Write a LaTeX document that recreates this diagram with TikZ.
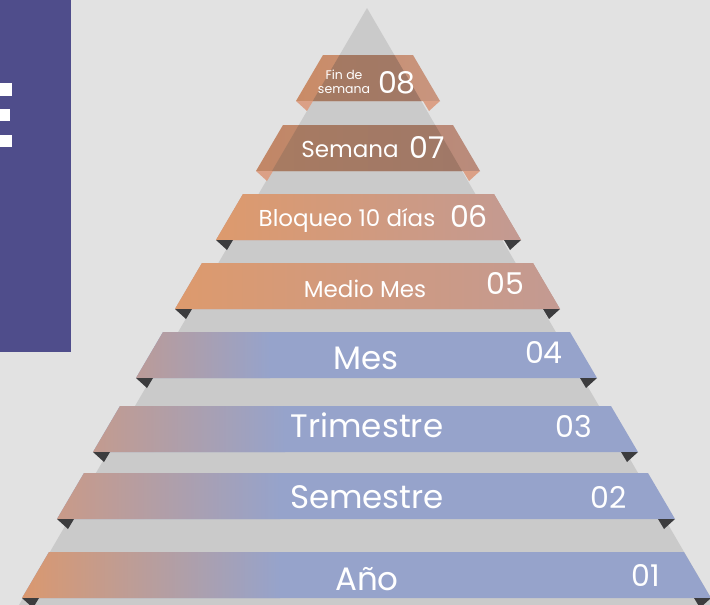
\documentclass[tikz,border=0pt]{standalone}
\usepackage{fontspec}
\setmainfont{Poppins}

\definecolor{bgray}{HTML}{E2E2E2}
\definecolor{tgray}{HTML}{CACACA}
\definecolor{panel}{HTML}{4F4D8B}
\definecolor{blu}{HTML}{96A3CB}
\definecolor{tabdark}{HTML}{3C3C3E}
\definecolor{tablight}{HTML}{DBA086}
\definecolor{orgL}{HTML}{DD9A6D}
\definecolor{pinkR}{HTML}{C39A92}
\definecolor{b4L}{HTML}{BB9B98}
\definecolor{b3L}{HTML}{C39B8F}
\definecolor{b2L}{HTML}{C99A88}
\definecolor{b1L}{HTML}{DA986F}
\definecolor{out8L}{HTML}{C98B66}
\definecolor{out8R}{HTML}{C8957F}
\definecolor{in8L}{HTML}{A67A60}
\definecolor{in8R}{HTML}{A07868}
\definecolor{out7L}{HTML}{C28766}
\definecolor{out7R}{HTML}{B98B7C}
\definecolor{in7L}{HTML}{A87B61}
\definecolor{in7R}{HTML}{9F7868}

\begin{document}
\begin{tikzpicture}[x=1pt,y=-1pt,
    lbl/.style={text=white,inner sep=0pt,font=\fontsize{23}{23}\selectfont},
    big/.style={text=white,inner sep=0pt,font=\fontsize{32.5}{32.5}\selectfont},
    num/.style={text=white,inner sep=0pt,font=\fontsize{30}{30}\selectfont},
    small/.style={text=white,inner sep=0pt,font=\fontsize{12.5}{12.5}\selectfont}]

	\useasboundingbox (0,0) rectangle (710,605);
	\clip (0,0) rectangle (710,605);
	\fill[bgray] (0,0) rectangle (710,605);

	% side panel
	\fill[panel] (0,0) rectangle (71,352);
	\fill[white] (0,83) rectangle (12,96);
	\fill[white] (0,109) rectangle (10,121);
	\fill[white] (0,135) rectangle (12,147);

	% pyramid
	\fill[tgray] (367,8) -- (19,605) -- (715,605) -- cycle;

	% lower bands
	\foreach \yt/\xl/\xr/\cl/\cr/\xe in {552/49/684/b1L/blu/280, 473/84/648/b2L/blu/280,
	    406/120/611/b3L/blu/285, 332/163/570/b4L/blu/270,
	    263/202/533/orgL/pinkR/560, 194/243/494/orgL/pinkR/521}{
		\fill[\cr] (\xl,\yt) -- (\xr,\yt) -- ({\xr+27},{\yt+46}) -- ({\xl-27},{\yt+46}) -- cycle;
		\begin{scope}
			\clip (\xl,\yt) -- (\xr,\yt) -- ({\xr+27},{\yt+46}) -- ({\xl-27},{\yt+46}) -- cycle;
			\shade[left color=\cl,right color=\cr] ({\xl-27},\yt) rectangle (\xe,{\yt+46});
		\end{scope}
		\fill[tabdark] ({\xl-27},{\yt+46}) -- ++(17,0) -- ++(-6,10) -- cycle;
		\fill[tabdark] ({\xr+27},{\yt+46}) -- ++(-17,0) -- ++(6,10) -- cycle;
	}

	% upper bands
	\foreach \yt/\xl/\xr/\oL/\oR/\iL/\iR in {125/283/453/out7L/out7R/in7L/in7R,
	    55/323/413/out8L/out8R/in8L/in8R}{
		\shade[left color=\oL,right color=\oR] (\xl,\yt) -- (\xr,\yt) -- ({\xr+27},{\yt+46}) -- ({\xl-27},{\yt+46}) -- cycle;
		\begin{scope}
			\clip (367,8) -- (19,605) -- (715,605) -- cycle;
			\clip (\xl,\yt) -- (\xr,\yt) -- ({\xr+27},{\yt+46}) -- ({\xl-27},{\yt+46}) -- cycle;
			\shade[left color=\iL,right color=\iR] ({\xl-27},\yt) rectangle ({\xr+27},{\yt+46});
		\end{scope}
		\fill[tablight] ({\xl-27},{\yt+46}) -- ++(17,0) -- ++(-6,10) -- cycle;
		\fill[tablight] ({\xr+27},{\yt+46}) -- ++(-17,0) -- ++(6,10) -- cycle;
	}

	% labels
	\node[small, anchor=base] (l_8a) at (344,79) {Fin de};
	\node[small, anchor=base] (l_8b) at (344,93) {semana};
	\node[num, anchor=base] (n_8) at (397,93) {08};
	\node[lbl, anchor=base] (l_7) at (350,157) {Semana};
	\node[num, anchor=base] (n_7) at (427,158) {07};
	\node[lbl, anchor=base] (l_6) at (347,226) {Bloqueo 10 días};
	\node[num, anchor=base] (n_6) at (469,227) {06};
	\node[lbl, anchor=base] (l_5) at (365,297) {Medio Mes};
	\node[num, anchor=base] (n_5) at (505,294) {05};
	\node[big, anchor=base] (l_4) at (366,369) {Mes};
	\node[num, anchor=base] (n_4) at (544,363) {04};
	\node[big, anchor=base] (l_3) at (367,437) {Trimestre};
	\node[num, anchor=base] (n_3) at (574,437) {03};
	\node[big, anchor=base] (l_2) at (367,508) {Semestre};
	\node[num, anchor=base] (n_2) at (609,508) {02};
	\node[big, anchor=base] (l_1) at (367,590) {Año};
	\node[num, anchor=base] (n_1) at (646,586) {01};
\end{tikzpicture}
\end{document}
